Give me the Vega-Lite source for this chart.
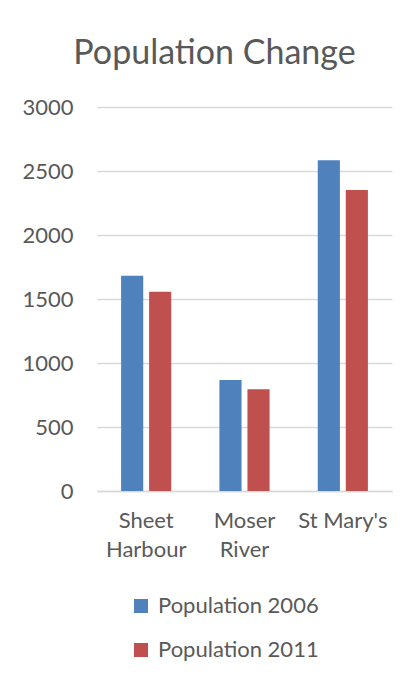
{
  "$schema": "https://vega.github.io/schema/vega-lite/v6.json",
  "autosize": "none",
  "width": 295,
  "height": 384,
  "padding": {"left": 97, "top": 107, "right": 17, "bottom": 183},
  "background": "white",
  "title": {
    "text": "Population Change",
    "font": "Lato",
    "fontSize": 34,
    "fontWeight": "normal",
    "color": "#595959",
    "anchor": "middle",
    "dx": -30,
    "offset": 25
  },
  "data": {
    "values": [
      {"place": "Sheet Harbour", "series": "Population 2006", "population": 1682},
      {"place": "Sheet Harbour", "series": "Population 2011", "population": 1557},
      {"place": "Moser River", "series": "Population 2006", "population": 867},
      {"place": "Moser River", "series": "Population 2011", "population": 794},
      {"place": "St Mary's", "series": "Population 2006", "population": 2584},
      {"place": "St Mary's", "series": "Population 2011", "population": 2352}
    ]
  },
  "mark": {"type": "bar"},
  "encoding": {
    "x": {
      "field": "place",
      "type": "nominal",
      "sort": ["Sheet Harbour", "Moser River", "St Mary's"],
      "scale": {"paddingInner": 0.49, "paddingOuter": 0.245},
      "axis": {
        "title": null,
        "labelAngle": 0,
        "labelFont": "Lato",
        "labelFontSize": 22,
        "labelColor": "#595959",
        "labelLineHeight": 29,
        "labelPadding": 19,
        "labelExpr": "datum.label == \"St Mary's\" ? datum.label : split(datum.label, ' ')",
        "ticks": false,
        "domainColor": "#d9d9d9",
        "domainWidth": 1.5,
        "grid": false
      }
    },
    "xOffset": {
      "field": "series",
      "type": "nominal",
      "scale": {"paddingInner": 0.21, "paddingOuter": 0}
    },
    "y": {
      "field": "population",
      "type": "quantitative",
      "scale": {"domain": [0, 3000]},
      "axis": {
        "title": null,
        "values": [0, 500, 1000, 1500, 2000, 2500, 3000],
        "format": "d",
        "labelFont": "Lato",
        "labelFontSize": 22,
        "labelColor": "#595959",
        "labelPadding": 24,
        "ticks": false,
        "domain": false,
        "gridColor": "#d9d9d9",
        "gridWidth": 1.5
      }
    },
    "color": {
      "field": "series",
      "type": "nominal",
      "scale": {"domain": ["Population 2006", "Population 2011"], "range": ["#4F81BD", "#C0504D"]},
      "legend": {
        "title": null,
        "orient": "none",
        "legendX": 33,
        "legendY": 488,
        "direction": "vertical",
        "symbolType": "square",
        "symbolSize": 196,
        "symbolStrokeWidth": 0,
        "labelFont": "Lato",
        "labelFontSize": 22,
        "labelColor": "#595959",
        "labelOffset": 6,
        "labelLimit": 400,
        "rowPadding": 22
      }
    }
  },
  "config": {"view": {"stroke": null}}
}
